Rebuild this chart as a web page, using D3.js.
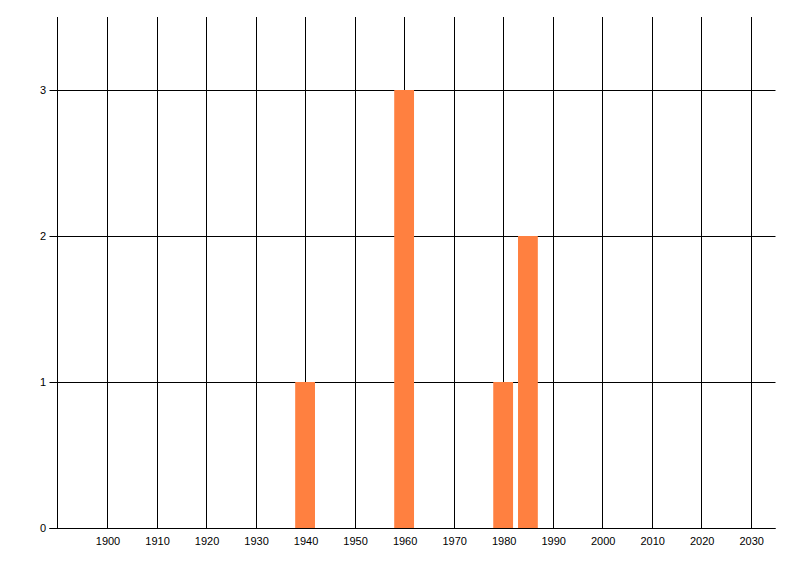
<!DOCTYPE html>
<html>
<head>
<meta charset="utf-8">
<script src="https://cdn.jsdelivr.net/npm/d3@7"></script>
<style>
  body { margin: 0; background: #fff; }
  svg { display: block; }
  text { font-family: "Liberation Sans", Arial, sans-serif; font-size: 11px; fill: #000; }
</style>
</head>
<body>
<div id="chart"></div>
<script>
    const years = [1940, 1960, 1980, 1985];
    const counts = [1, 3, 1, 2];
    const xTicks = [1900, 1910, 1920, 1930, 1940, 1950, 1960, 1970, 1980, 1990, 2000, 2010, 2020, 2030];
    const yTicks = [0, 1, 2, 3];

    const W = 800, H = 576,
        L = 57.5, R = 775.5, T = 17, B = 528, barHalf = 2;

    const svg = d3.select("#chart").append("svg").attr("width", W).attr("height", H);

    const x = d3.scaleLinear().domain([1890, 2035]).range([L, R]);
    const y = d3.scaleLinear().domain([0, 3.5]).range([B, T]);
    const px = v => Math.round(x(v)) + 0.5;
    const py = v => Math.round(y(v)) + 0.5;

    // vertical grid lines
    svg.append("g").selectAll("line").data(xTicks).join("line")
        .attr("x1", d => px(d)).attr("x2", d => px(d))
        .attr("y1", T).attr("y2", B + 0.5)
        .attr("stroke", "#000").attr("stroke-width", 1);

    // horizontal grid lines incl. tick stubs
    svg.append("g").selectAll("line").data(yTicks).join("line")
        .attr("x1", L - 8).attr("x2", R)
        .attr("y1", d => py(d)).attr("y2", d => py(d))
        .attr("stroke", "#000").attr("stroke-width", 1);

    // bars
    svg.append("g").selectAll("rect").data(years).join("rect")
        .attr("x", d => x(d - barHalf))
        .attr("width", d => x(d + barHalf) - x(d - barHalf))
        .attr("y", (d, i) => y(counts[i]))
        .attr("height", (d, i) => y(0) - y(counts[i]))
        .attr("fill", "#ff8040");

    // axes lines
    svg.append("line").attr("x1", L).attr("x2", L).attr("y1", T).attr("y2", py(0))
        .attr("stroke", "#000").attr("stroke-width", 1);
    svg.append("line").attr("x1", L - 8).attr("x2", R).attr("y1", py(0)).attr("y2", py(0))
        .attr("stroke", "#000").attr("stroke-width", 1);

    // labels
    svg.append("g").selectAll("text").data(xTicks).join("text")
        .attr("x", d => x(d) + 1).attr("y", 545)
        .attr("text-anchor", "middle").text(d => d);
    svg.append("g").selectAll("text").data(yTicks).join("text")
        .attr("x", 46).attr("y", d => y(d) + 4)
        .attr("text-anchor", "end").text(d => d);
</script>
</body>
</html>
